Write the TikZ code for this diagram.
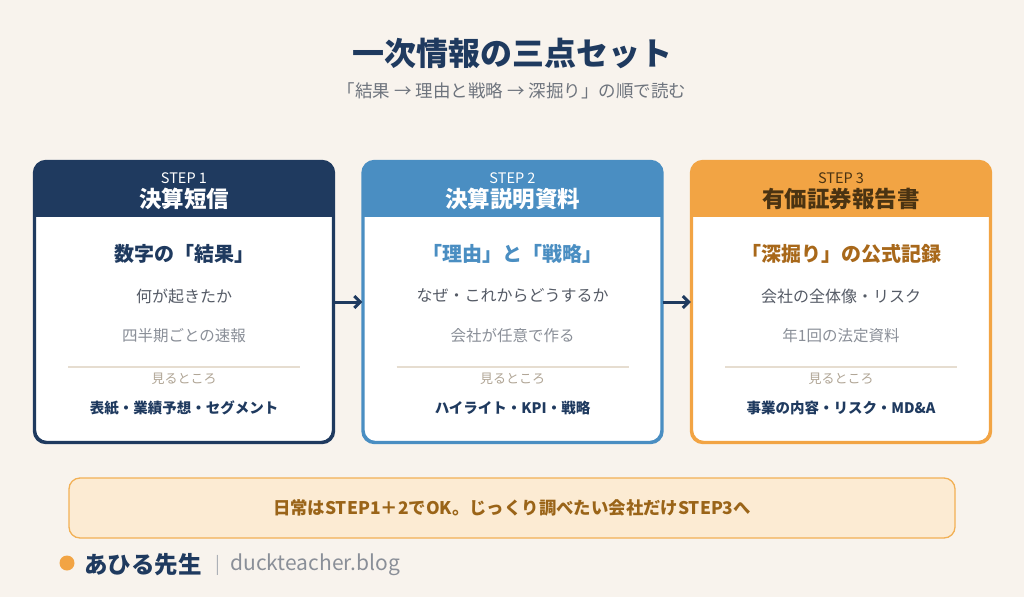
\documentclass[tikz,border=0pt]{standalone}
\usepackage{fontspec}
\setmainfont{Noto Sans CJK JP}
\usetikzlibrary{arrows.meta,positioning}

\definecolor{paper}{HTML}{F8F3ED}
\definecolor{navy}{HTML}{1F3A5F}
\definecolor{skyblue}{HTML}{4A8EC2}
\definecolor{amber}{HTML}{F2A444}
\definecolor{darkbrown}{HTML}{4A3312}
\definecolor{rust}{HTML}{A8681A}
\definecolor{slate}{HTML}{555B66}
\definecolor{mist}{HTML}{8A8F98}
\definecolor{sand}{HTML}{E6DDD0}
\definecolor{taupe}{HTML}{B0A595}
\definecolor{cream}{HTML}{FCEBD3}
\definecolor{banner}{HTML}{F2B055}
\definecolor{bannertext}{HTML}{9A6418}

\tikzset{
  cardbox/.style={fill=white, line width=2.2pt, rounded corners=12pt,
    minimum width=298pt, minimum height=280pt, inner sep=0pt},
  steplbl/.style={font=\fontsize{14.5}{14.5}\selectfont},
  titlelbl/.style={font=\fontsize{22.5}{22.5}\selectfont\bfseries},
  headlbl/.style={font=\fontsize{20}{20}\selectfont\bfseries},
  linea/.style={font=\fontsize{16}{16}\selectfont, text=slate},
  lineb/.style={font=\fontsize{15.5}{15.5}\selectfont, text=mist},
  lookhere/.style={font=\fontsize{13}{13}\selectfont, text=taupe},
  keypts/.style={font=\fontsize{14.5}{14.5}\selectfont\bfseries, text=navy},
  divider/.style={draw=sand, line width=1.2pt},
  flow/.style={draw=navy, line width=3pt, -{Straight Barb[length=6pt,width=12pt]}},
}

\begin{document}
\begin{tikzpicture}[x=1pt, y=-1pt]
    \fill[paper] (0,0) rectangle (1024,597);
    \useasboundingbox (0,0) rectangle (1024,597);

    % Title
    \node[font=\fontsize{32}{32}\selectfont\bfseries, text=navy] (title) at (512,53) {一次情報の三点セット};
    \node[font=\fontsize{17.5}{17.5}\selectfont, text=slate!85] (subtitle) at (512,91) {「結果 → 理由と戦略 → 深掘り」の順で読む};

    % Cards
    \foreach \i/\cx/\col/\tcol/\hcol/\name/\head/\la/\lb/\pts in {
        1/184/navy/white/navy/決算短信/数字の「結果」/何が起きたか/四半期ごとの速報/表紙・業績予想・セグメント,
        2/512.5/skyblue/white/skyblue/決算説明資料/「理由」と「戦略」/なぜ・これからどうするか/会社が任意で作る/ハイライト・KPI・戦略,
        3/841/amber/darkbrown/rust/有価証券報告書/「深掘り」の公式記録/会社の全体像・リスク/年1回の法定資料/事業の内容・リスク・MD\&A}
    {
        \node[cardbox, draw=\col] (card\i) at (\cx,302) {};
        \begin{scope}
            \clip[rounded corners=12pt] (card\i.north west) rectangle (card\i.south east);
            \fill[\col] (card\i.north west) rectangle (\cx+149,217);
        \end{scope}
        \draw[\col, line width=2.2pt, rounded corners=12pt] (card\i.north west) rectangle (card\i.south east);

        \node[steplbl, text=\tcol] (step\i) at (\cx,178) {STEP \i};
        \node[titlelbl, text=\tcol] (name\i) at (\cx,199) {\name};
        \node[headlbl, text=\hcol] (head\i) at (\cx,254) {\head};
        \node[linea] (linea\i) at (\cx,296) {\la};
        \node[lineb] (lineb\i) at (\cx,336) {\lb};
        \draw[divider] (\cx-116,367) -- (\cx+116,367);
        \node[lookhere] (look\i) at (\cx,379) {見るところ};
        \node[keypts] (pts\i) at (\cx,408) {\pts};
    }

    % Arrows
    \draw[flow] (card1) -- (card2);
    \draw[flow] (card2) -- (card3);

    % Banner
    \node[fill=cream, draw=banner, line width=1.3pt, rounded corners=11pt,
          minimum width=886pt, minimum height=60pt,
          font=\fontsize{17.4}{17.4}\selectfont\bfseries, text=bannertext] (tip) at (512,508)
          {日常はSTEP1＋2でOK。じっくり調べたい会社だけSTEP3へ};

    % Logo
    \fill[amber] (67,563) circle (7.5) coordinate (dot);
    \node[anchor=west, font=\fontsize{23.5}{23.5}\selectfont\bfseries, text=navy, inner sep=0pt] (author) at (84,565) {あひる先生};
    \node[right=13pt of author, font=\fontsize{18}{18}\selectfont, text=mist!70, inner sep=0pt] (bar) {|};
    \node[right=10pt of bar, font=\fontsize{21}{21}\selectfont, text=mist, inner sep=0pt] (site) {duckteacher.blog};
\end{tikzpicture}
\end{document}
